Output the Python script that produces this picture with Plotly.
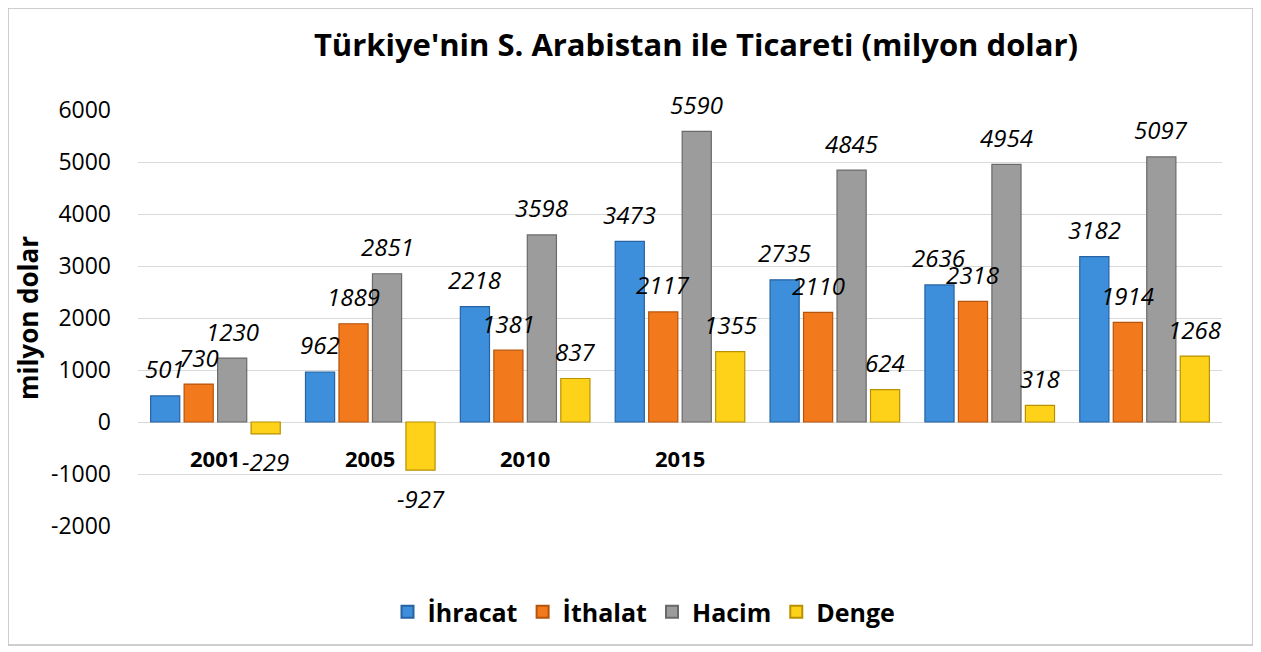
import plotly.graph_objects as go

categories = ["2001", "2005", "2010", "2015", "", "", ""]
ihracat = [501, 962, 2218, 3473, 2735, 2636, 3182]
ithalat = [730, 1889, 1381, 2117, 2110, 2318, 1914]
hacim = [1230, 2851, 3598, 5590, 4845, 4954, 5097]
denge = [-229, -927, 837, 1355, 624, 318, 1268]
y_tick_values = [-2000, -1000, 0, 1000, 2000, 3000, 4000, 5000, 6000]
y_tick_labels = ["-2000", "-1000", "0", "1000", "2000", "3000", "4000", "5000", "6000"]

series_names = ["İhracat", "İthalat", "Hacim", "Denge"]
series_values = [ihracat, ithalat, hacim, denge]
fill_colors = ["#3d8fdb", "#f2791c", "#9c9c9c", "#ffd21a"]
edge_colors = ["#2763a3", "#b5540c", "#6a6a6a", "#b89000"]

FONT = "Open Sans"
bargap = 0.135
bargroupgap = 0.13
n = len(series_names)
slot = (1 - bargap) / n

xpos = list(range(len(categories)))

# page has an 8px body margin: figure origin sits at (8, 8) on screen
W, H = 1253, 644
L, T = 130, 102
PW, PH = 1084, 416
R, B = W - L - PW, H - T - PH

fig = go.Figure()
for name, vals, fc, ec in zip(series_names, series_values, fill_colors, edge_colors):
    fig.add_trace(go.Bar(
        x=xpos, y=vals, name="<b>" + name + "</b>",
        marker=dict(color=fc, line=dict(color=ec, width=1.2)),
    ))

annotations = []
for j, vals in enumerate(series_values):
    off = (j - (n - 1) / 2) * slot
    for i, v in enumerate(vals):
        annotations.append(dict(
            x=i + off, y=v, xref="x", yref="y", text=str(v), showarrow=False,
            yshift=27 if v >= 0 else -28,
            font=dict(family=FONT, size=24, color="black", style="italic"),
        ))

for i, c in enumerate(categories):
    if c:
        annotations.append(dict(
            x=i, y=0, xref="x", yref="y", text="<b>%s</b>" % c, showarrow=False,
            yshift=-36, font=dict(family=FONT, size=22, color="black"),
        ))

fig.update_layout(
    width=W, height=H,
    margin=dict(l=L, r=R, t=T, b=B),
    paper_bgcolor="white", plot_bgcolor="white",
    barmode="group", bargap=bargap, bargroupgap=bargroupgap,
    title=dict(text="<b>Türkiye'nin S. Arabistan ile Ticareti (milyon dolar)</b>",
               x=(696 - 8) / W, xanchor="center", y=1 - (45 - 8) / H, yanchor="middle",
               font=dict(family=FONT, size=31, color="black")),
    xaxis=dict(range=[-0.5, len(categories) - 0.5], showticklabels=False,
               showgrid=False, zeroline=False, showline=False, ticks=""),
    yaxis=dict(range=[-2000, 6000], tickmode="array", tickvals=y_tick_values, ticktext=y_tick_labels,
               tickfont=dict(family=FONT, size=23, color="black"),
               showgrid=True, gridcolor="#d9d9d9", gridwidth=1.3,
               zeroline=True, zerolinecolor="#d9d9d9", zerolinewidth=1.3,
               ticklabelstandoff=26,
               title=dict(text="<b>milyon dolar</b>", font=dict(family=FONT, size=26, color="black"),
                          standoff=4)),
    legend=dict(orientation="h", x=(644 - 138) / PW, xanchor="center", y=(526 - 612) / PH, yanchor="middle",
                font=dict(family=FONT, size=25, color="black"), itemsizing="constant",
                traceorder="normal"),
    annotations=annotations,
    shapes=[dict(type="rect", xref="paper", yref="paper",
                 x0=(8 - 138) / PW, x1=(1253 - 138) / PW,
                 y0=(526 - 645) / PH, y1=(526 - 8) / PH,
                 line=dict(color="#bfbfbf", width=1.5), fillcolor="rgba(0,0,0,0)", layer="below")],
)

fig.write_html("out.html")
